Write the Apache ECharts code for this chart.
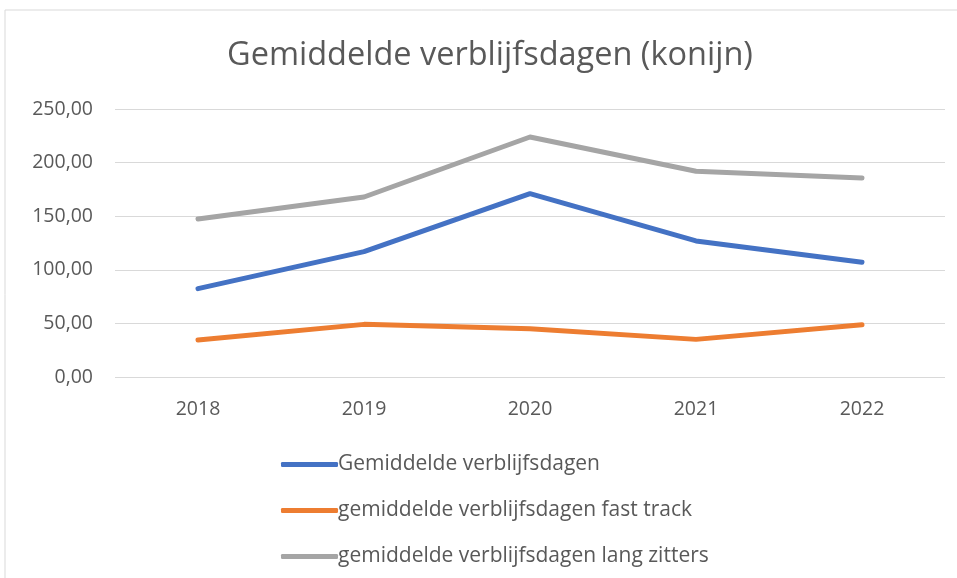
<!DOCTYPE html>
<html>
<head>
<meta charset="utf-8">
<script src="https://cdn.jsdelivr.net/npm/echarts@6/dist/echarts.min.js"></script>
<style>
  html, body { margin: 0; padding: 0; background: #fff; }
  #chart { width: 957px; height: 578px; }
</style>
</head>
<body>
<div id="chart"></div>
<script>
const years = ['2018', '2019', '2020', '2021', '2022']
const gemiddeld = [82.4, 116.9, 171.0, 126.9, 107.0]
const fastTrack = [34.5, 49.1, 45.1, 35.1, 48.8]
const langZitters = [147.4, 167.9, 223.9, 191.9, 185.6]
const seriesNames = [
  'Gemiddelde verblijfsdagen',
  'gemiddelde verblijfsdagen fast track',
  'gemiddelde verblijfsdagen lang zitters'
]

const font = '"Open Sans", Lato, sans-serif'
const chart = echarts.init(document.getElementById('chart'))

function lineSeries (name, data, color) {
  return {
    name: name,
    type: 'line',
    showSymbol: false,
    symbol: 'none',
    data: data,
    itemStyle: { color: color },
    lineStyle: { width: 5, color: color, cap: 'round', join: 'round' }
  }
}

const option = {
  animation: false,
  backgroundColor: '#fff',
  graphic: [{
    type: 'rect',
    shape: { x: 5, y: 10, width: 1000, height: 700 },
    style: { fill: 'none', stroke: '#d9d9d9', lineWidth: 1 },
    silent: true
  }],
  title: {
    text: 'Gemiddelde verblijfsdagen (konijn)',
    left: 222,
    top: 34,
    textStyle: { fontFamily: font, fontSize: 32.5, fontWeight: 'normal', color: '#595959' }
  },
  legend: {
    orient: 'vertical',
    left: 276,
    top: 449,
    itemGap: 25,
    itemWidth: 57,
    itemHeight: 5,
    icon: 'roundRect',
    data: seriesNames,
    textStyle: { fontFamily: font, fontSize: 21, color: '#595959', lineHeight: 20, padding: [0, 0, 0, -5] }
  },
  grid: {
    left: 115,
    right: 12,
    top: 109,
    bottom: 201,
    containLabel: false
  },
  xAxis: {
    type: 'category',
    data: years,
    boundaryGap: true,
    axisLine: { show: false },
    axisTick: { show: false },
    axisLabel: { margin: 22, fontFamily: font, fontSize: 19.5, color: '#595959' }
  },
  yAxis: {
    type: 'value',
    min: 0,
    max: 250,
    interval: 50,
    axisLine: { show: false },
    axisTick: { show: false },
    splitLine: { lineStyle: { color: '#d9d9d9', width: 1 } },
    axisLabel: {
      margin: 22,
      fontFamily: font,
      fontSize: 19.5,
      color: '#595959',
      formatter: v => v.toFixed(2).replace('.', ',')
    }
  },
  series: [
    lineSeries(seriesNames[0], gemiddeld, '#4472c4'),
    lineSeries(seriesNames[1], fastTrack, '#ed7d31'),
    lineSeries(seriesNames[2], langZitters, '#a5a5a5')
  ]
}

chart.setOption(option)
window.addEventListener('resize', () => chart.resize())
</script>
</body>
</html>
